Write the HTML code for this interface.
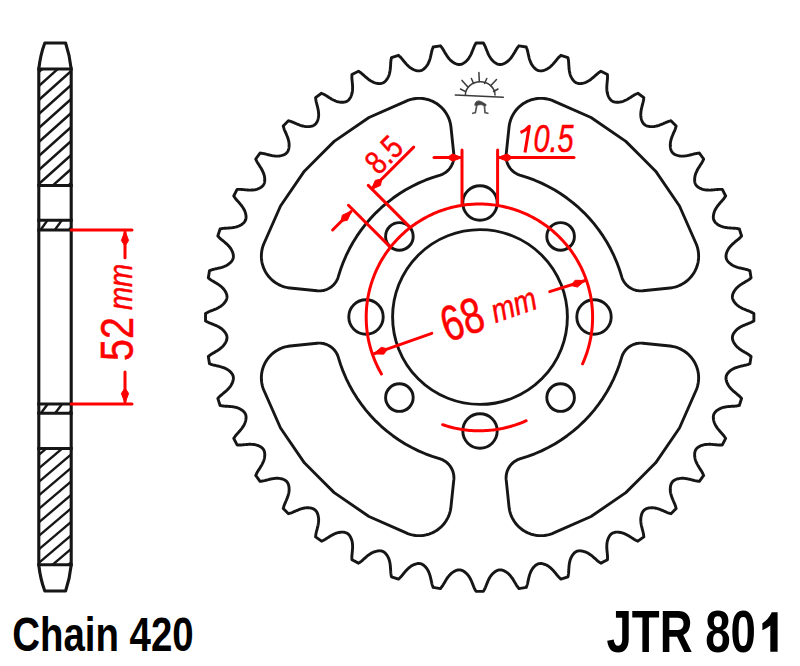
<!DOCTYPE html>
<html><head><meta charset="utf-8"><style>
html,body{margin:0;padding:0;background:#fff;}
body{width:800px;height:666px;overflow:hidden;font-family:"Liberation Sans",sans-serif;}
svg{display:block;}
</style></head><body>
<svg width="800" height="666" viewBox="0 0 800 666"><rect width="800" height="666" fill="#fff"/><g fill="none" stroke="#161616" stroke-width="2.9" stroke-linejoin="round" stroke-linecap="round"><path d="M459.81,64.48L460.47,64.40L461.12,64.26L461.77,64.05L462.42,63.79L463.06,63.48L463.71,63.10L464.38,62.66L465.06,62.15L465.74,61.57L466.41,60.96L467.05,60.33L467.65,59.68L468.19,59.02L468.70,58.32L469.17,57.59L469.62,56.85L470.05,56.11L470.46,55.36L470.85,54.62L471.21,53.86L471.54,53.09L471.86,52.33L472.17,51.56L472.49,50.80L472.81,50.02L473.12,49.23L473.42,48.44L473.72,47.67L474.01,46.93L474.31,46.25L474.60,45.63L474.90,45.06L475.19,44.53L475.47,44.02L475.75,43.52L476.02,43.02L483.38,43.02L483.65,43.52L483.93,44.02L484.21,44.53L484.50,45.06L484.80,45.63L485.09,46.25L485.39,46.93L485.68,47.67L485.98,48.44L486.28,49.23L486.59,50.02L486.91,50.80L487.23,51.56L487.54,52.33L487.86,53.09L488.19,53.86L488.55,54.62L488.94,55.36L489.35,56.11L489.78,56.85L490.23,57.59L490.70,58.32L491.21,59.02L491.75,59.68L492.35,60.33L492.99,60.96L493.66,61.57L494.34,62.15L495.02,62.66L495.69,63.10L496.34,63.48L496.98,63.79L497.63,64.05L498.28,64.26L498.93,64.40L499.59,64.48L500.25,64.50L500.92,64.46L501.59,64.36L502.27,64.21L502.96,64.00L503.66,63.73L504.39,63.40L505.14,63.00L505.90,62.54L506.66,62.04L507.39,61.51L508.08,60.97L508.72,60.40L509.33,59.78L509.91,59.14L510.48,58.48L511.02,57.81L511.54,57.14L512.04,56.47L512.51,55.77L512.96,55.07L513.39,54.36L513.82,53.65L514.25,52.95L514.69,52.24L515.12,51.50L515.54,50.77L515.96,50.05L516.36,49.37L516.76,48.75L517.15,48.18L517.53,47.66L517.90,47.18L518.26,46.72L518.61,46.27L518.95,45.82L526.23,46.98L526.41,47.51L526.61,48.05L526.81,48.59L527.02,49.17L527.22,49.78L527.41,50.43L527.60,51.15L527.77,51.92L527.95,52.73L528.12,53.56L528.30,54.39L528.49,55.21L528.69,56.01L528.88,56.81L529.07,57.62L529.28,58.43L529.52,59.23L529.78,60.03L530.07,60.83L530.38,61.64L530.71,62.44L531.07,63.23L531.46,64.00L531.89,64.74L532.37,65.47L532.91,66.20L533.47,66.90L534.06,67.58L534.65,68.19L535.24,68.73L535.82,69.20L536.41,69.62L537.01,69.97L537.62,70.28L538.24,70.52L538.88,70.70L539.53,70.83L540.20,70.89L540.87,70.90L541.57,70.85L542.28,70.75L543.02,70.60L543.78,70.38L544.59,70.10L545.42,69.77L546.25,69.40L547.05,68.99L547.81,68.56L548.54,68.10L549.23,67.59L549.91,67.05L550.57,66.48L551.21,65.90L551.83,65.32L552.43,64.73L553.00,64.12L553.55,63.50L554.09,62.87L554.63,62.24L555.17,61.61L555.71,60.97L556.25,60.31L556.78,59.66L557.30,59.01L557.81,58.41L558.30,57.85L558.77,57.35L559.23,56.90L559.67,56.48L560.10,56.09L560.51,55.70L560.92,55.31L567.93,57.58L568.03,58.14L568.14,58.70L568.25,59.27L568.36,59.87L568.47,60.50L568.55,61.18L568.62,61.92L568.68,62.71L568.72,63.54L568.77,64.38L568.82,65.23L568.88,66.06L568.94,66.89L569.01,67.71L569.07,68.54L569.15,69.37L569.26,70.20L569.40,71.03L569.56,71.87L569.73,72.71L569.93,73.55L570.16,74.39L570.43,75.21L570.74,76.01L571.11,76.81L571.52,77.61L571.97,78.40L572.44,79.15L572.93,79.85L573.42,80.48L573.93,81.03L574.44,81.54L574.98,81.98L575.53,82.38L576.11,82.71L576.71,83.00L577.33,83.22L577.98,83.39L578.65,83.50L579.35,83.57L580.07,83.58L580.81,83.54L581.61,83.45L582.45,83.30L583.32,83.10L584.19,82.86L585.05,82.58L585.87,82.28L586.66,81.93L587.43,81.54L588.18,81.11L588.92,80.66L589.64,80.18L590.34,79.71L591.03,79.22L591.69,78.71L592.33,78.18L592.97,77.64L593.59,77.10L594.22,76.56L594.85,76.02L595.49,75.45L596.12,74.88L596.73,74.33L597.33,73.81L597.90,73.34L598.45,72.92L598.97,72.55L599.47,72.20L599.95,71.88L600.43,71.56L600.89,71.24L607.46,74.58L607.47,75.15L607.49,75.72L607.51,76.30L607.53,76.91L607.53,77.55L607.51,78.23L607.46,78.97L607.39,79.76L607.31,80.59L607.22,81.43L607.14,82.27L607.07,83.11L607.00,83.93L606.93,84.76L606.87,85.58L606.82,86.42L606.79,87.25L606.80,88.09L606.83,88.94L606.87,89.80L606.94,90.67L607.03,91.53L607.17,92.38L607.35,93.22L607.59,94.07L607.87,94.92L608.19,95.77L608.54,96.59L608.91,97.36L609.30,98.06L609.71,98.68L610.14,99.26L610.60,99.78L611.09,100.26L611.60,100.68L612.15,101.06L612.73,101.38L613.35,101.64L613.99,101.86L614.67,102.03L615.38,102.15L616.12,102.23L616.92,102.27L617.77,102.25L618.66,102.19L619.56,102.09L620.46,101.95L621.31,101.78L622.14,101.56L622.96,101.29L623.78,100.99L624.58,100.65L625.36,100.30L626.13,99.94L626.88,99.56L627.62,99.16L628.34,98.74L629.05,98.31L629.75,97.87L630.46,97.44L631.17,97.00L631.88,96.54L632.59,96.08L633.29,95.63L633.96,95.21L634.60,94.83L635.20,94.50L635.77,94.21L636.32,93.95L636.85,93.71L637.37,93.47L637.88,93.22L643.84,97.55L643.76,98.11L643.69,98.68L643.62,99.26L643.54,99.86L643.45,100.49L643.32,101.17L643.16,101.89L642.97,102.66L642.75,103.46L642.53,104.28L642.32,105.10L642.12,105.91L641.93,106.72L641.73,107.52L641.54,108.33L641.36,109.14L641.20,109.97L641.08,110.80L640.97,111.64L640.88,112.50L640.81,113.36L640.77,114.23L640.77,115.09L640.82,115.95L640.92,116.82L641.06,117.71L641.24,118.60L641.46,119.46L641.71,120.28L641.99,121.03L642.29,121.71L642.63,122.35L643.00,122.94L643.41,123.48L643.85,123.98L644.34,124.44L644.86,124.84L645.42,125.20L646.02,125.52L646.67,125.79L647.35,126.03L648.07,126.22L648.85,126.38L649.70,126.50L650.59,126.58L651.49,126.62L652.39,126.62L653.27,126.58L654.12,126.50L654.98,126.36L655.83,126.19L656.67,125.98L657.50,125.76L658.32,125.52L659.12,125.27L659.91,124.98L660.68,124.68L661.45,124.36L662.21,124.04L662.98,123.73L663.75,123.40L664.53,123.06L665.30,122.72L666.06,122.38L666.79,122.07L667.48,121.80L668.12,121.57L668.73,121.38L669.32,121.20L669.88,121.04L670.42,120.89L670.97,120.72L676.18,125.93L676.01,126.48L675.86,127.02L675.70,127.58L675.52,128.17L675.33,128.78L675.10,129.42L674.83,130.11L674.52,130.84L674.18,131.60L673.84,132.37L673.50,133.15L673.17,133.92L672.86,134.69L672.54,135.45L672.22,136.22L671.92,136.99L671.63,137.78L671.38,138.58L671.14,139.40L670.92,140.23L670.71,141.07L670.54,141.92L670.40,142.78L670.32,143.63L670.28,144.51L670.28,145.41L670.32,146.31L670.40,147.20L670.52,148.05L670.68,148.83L670.87,149.55L671.11,150.23L671.38,150.88L671.70,151.48L672.06,152.04L672.46,152.56L672.92,153.05L673.42,153.49L673.96,153.90L674.55,154.27L675.19,154.61L675.87,154.91L676.62,155.19L677.44,155.44L678.30,155.66L679.19,155.84L680.08,155.98L680.95,156.08L681.81,156.13L682.67,156.13L683.54,156.09L684.40,156.02L685.26,155.93L686.10,155.82L686.93,155.70L687.76,155.54L688.57,155.36L689.38,155.17L690.18,154.97L690.99,154.78L691.80,154.58L692.62,154.37L693.44,154.15L694.24,153.93L695.01,153.74L695.73,153.58L696.41,153.45L697.04,153.36L697.64,153.28L698.22,153.21L698.79,153.14L699.35,153.06L703.68,159.02L703.43,159.53L703.19,160.05L702.95,160.58L702.69,161.13L702.40,161.70L702.07,162.30L701.69,162.94L701.27,163.61L700.82,164.31L700.36,165.02L699.90,165.73L699.46,166.44L699.03,167.15L698.59,167.85L698.16,168.56L697.74,169.28L697.34,170.02L696.96,170.77L696.60,171.54L696.25,172.32L695.91,173.12L695.61,173.94L695.34,174.76L695.12,175.59L694.95,176.44L694.81,177.34L694.71,178.24L694.65,179.13L694.63,179.98L694.67,180.78L694.75,181.52L694.87,182.23L695.04,182.91L695.26,183.55L695.52,184.17L695.84,184.75L696.22,185.30L696.64,185.81L697.12,186.30L697.64,186.76L698.22,187.19L698.84,187.60L699.54,187.99L700.31,188.36L701.13,188.71L701.98,189.03L702.83,189.31L703.68,189.55L704.52,189.73L705.37,189.87L706.23,189.96L707.10,190.03L707.96,190.07L708.81,190.10L709.65,190.11L710.48,190.08L711.32,190.03L712.14,189.97L712.97,189.90L713.79,189.83L714.63,189.76L715.47,189.68L716.31,189.59L717.14,189.51L717.93,189.44L718.67,189.39L719.35,189.37L719.99,189.37L720.60,189.39L721.18,189.41L721.75,189.43L722.32,189.44L725.66,196.01L725.34,196.47L725.02,196.95L724.70,197.43L724.35,197.93L723.98,198.45L723.56,199.00L723.09,199.57L722.57,200.17L722.02,200.78L721.45,201.41L720.88,202.05L720.34,202.68L719.80,203.31L719.26,203.93L718.72,204.57L718.19,205.21L717.68,205.87L717.19,206.56L716.72,207.26L716.24,207.98L715.79,208.72L715.36,209.47L714.97,210.24L714.62,211.03L714.32,211.85L714.04,212.71L713.80,213.58L713.60,214.45L713.45,215.29L713.36,216.09L713.32,216.83L713.33,217.55L713.40,218.25L713.51,218.92L713.68,219.57L713.90,220.19L714.19,220.79L714.52,221.37L714.92,221.92L715.36,222.46L715.87,222.97L716.42,223.48L717.05,223.97L717.75,224.46L718.50,224.93L719.29,225.38L720.09,225.79L720.89,226.16L721.69,226.47L722.51,226.74L723.35,226.97L724.19,227.17L725.03,227.34L725.87,227.50L726.70,227.64L727.53,227.75L728.36,227.83L729.19,227.89L730.01,227.96L730.84,228.02L731.67,228.08L732.52,228.13L733.36,228.18L734.19,228.22L734.98,228.28L735.72,228.35L736.40,228.43L737.03,228.54L737.63,228.65L738.20,228.76L738.76,228.87L739.32,228.97L741.59,235.98L741.20,236.39L740.81,236.80L740.42,237.23L740.00,237.67L739.55,238.13L739.05,238.60L738.49,239.09L737.89,239.60L737.24,240.12L736.59,240.65L735.93,241.19L735.29,241.73L734.66,242.27L734.03,242.81L733.40,243.35L732.78,243.90L732.17,244.47L731.58,245.07L731.00,245.69L730.42,246.33L729.85,246.99L729.31,247.67L728.80,248.36L728.34,249.09L727.91,249.85L727.50,250.65L727.13,251.48L726.80,252.31L726.52,253.12L726.30,253.88L726.15,254.62L726.05,255.33L726.00,256.03L726.01,256.70L726.07,257.37L726.20,258.02L726.38,258.66L726.62,259.28L726.93,259.89L727.28,260.49L727.70,261.08L728.17,261.66L728.71,262.25L729.32,262.84L730.00,263.43L730.70,263.99L731.43,264.53L732.16,265.01L732.90,265.44L733.67,265.83L734.46,266.19L735.26,266.52L736.07,266.83L736.87,267.12L737.67,267.38L738.47,267.62L739.28,267.83L740.09,268.02L740.89,268.21L741.69,268.41L742.51,268.60L743.34,268.78L744.17,268.95L744.98,269.13L745.75,269.30L746.47,269.49L747.12,269.68L747.73,269.88L748.31,270.09L748.85,270.29L749.39,270.49L749.92,270.67L751.08,277.95L750.63,278.29L750.18,278.64L749.72,279.00L749.24,279.37L748.72,279.75L748.15,280.14L747.53,280.54L746.85,280.94L746.13,281.36L745.40,281.78L744.66,282.21L743.95,282.65L743.25,283.08L742.54,283.51L741.83,283.94L741.13,284.39L740.43,284.86L739.76,285.36L739.09,285.88L738.42,286.42L737.76,286.99L737.12,287.57L736.50,288.18L735.93,288.82L735.39,289.51L734.86,290.24L734.36,291.00L733.90,291.76L733.50,292.51L733.17,293.24L732.90,293.94L732.69,294.63L732.54,295.31L732.44,295.98L732.40,296.65L732.42,297.31L732.50,297.97L732.64,298.62L732.85,299.27L733.11,299.92L733.42,300.56L733.80,301.21L734.24,301.88L734.75,302.56L735.33,303.24L735.94,303.91L736.57,304.55L737.22,305.15L737.88,305.69L738.58,306.20L739.31,306.67L740.05,307.12L740.79,307.55L741.54,307.96L742.28,308.35L743.04,308.71L743.81,309.04L744.57,309.36L745.34,309.67L746.10,309.99L746.88,310.31L747.67,310.62L748.46,310.92L749.23,311.22L749.97,311.51L750.65,311.81L751.27,312.10L751.84,312.40L752.37,312.69L752.88,312.97L753.38,313.25L753.88,313.52L753.88,320.88L753.38,321.15L752.88,321.43L752.37,321.71L751.84,322.00L751.27,322.30L750.65,322.59L749.97,322.89L749.23,323.18L748.46,323.48L747.67,323.78L746.88,324.09L746.10,324.41L745.34,324.73L744.57,325.04L743.81,325.36L743.04,325.69L742.28,326.05L741.54,326.44L740.79,326.85L740.05,327.28L739.31,327.73L738.58,328.20L737.88,328.71L737.22,329.25L736.57,329.85L735.94,330.49L735.33,331.16L734.75,331.84L734.24,332.52L733.80,333.19L733.42,333.84L733.11,334.48L732.85,335.13L732.64,335.78L732.50,336.43L732.42,337.09L732.40,337.75L732.44,338.42L732.54,339.09L732.69,339.77L732.90,340.46L733.17,341.16L733.50,341.89L733.90,342.64L734.36,343.40L734.86,344.16L735.39,344.89L735.93,345.58L736.50,346.22L737.12,346.83L737.76,347.41L738.42,347.98L739.09,348.52L739.76,349.04L740.43,349.54L741.13,350.01L741.83,350.46L742.54,350.89L743.25,351.32L743.95,351.75L744.66,352.19L745.40,352.62L746.13,353.04L746.85,353.46L747.53,353.86L748.15,354.26L748.72,354.65L749.24,355.03L749.72,355.40L750.18,355.76L750.63,356.11L751.08,356.45L749.92,363.73L749.39,363.91L748.85,364.11L748.31,364.31L747.73,364.52L747.12,364.72L746.47,364.91L745.75,365.10L744.98,365.27L744.17,365.45L743.34,365.62L742.51,365.80L741.69,365.99L740.89,366.19L740.09,366.38L739.28,366.57L738.47,366.78L737.67,367.02L736.87,367.28L736.07,367.57L735.26,367.88L734.46,368.21L733.67,368.57L732.90,368.96L732.16,369.39L731.43,369.87L730.70,370.41L730.00,370.97L729.32,371.56L728.71,372.15L728.17,372.74L727.70,373.32L727.28,373.91L726.93,374.51L726.62,375.12L726.38,375.74L726.20,376.38L726.07,377.03L726.01,377.70L726.00,378.37L726.05,379.07L726.15,379.78L726.30,380.52L726.52,381.28L726.80,382.09L727.13,382.92L727.50,383.75L727.91,384.55L728.34,385.31L728.80,386.04L729.31,386.73L729.85,387.41L730.42,388.07L731.00,388.71L731.58,389.33L732.17,389.93L732.78,390.50L733.40,391.05L734.03,391.59L734.66,392.13L735.29,392.67L735.93,393.21L736.59,393.75L737.24,394.28L737.89,394.80L738.49,395.31L739.05,395.80L739.55,396.27L740.00,396.73L740.42,397.17L740.81,397.60L741.20,398.01L741.59,398.42L739.32,405.43L738.76,405.53L738.20,405.64L737.63,405.75L737.03,405.86L736.40,405.97L735.72,406.05L734.98,406.12L734.19,406.18L733.36,406.22L732.52,406.27L731.67,406.32L730.84,406.38L730.01,406.44L729.19,406.51L728.36,406.57L727.53,406.65L726.70,406.76L725.87,406.90L725.03,407.06L724.19,407.23L723.35,407.43L722.51,407.66L721.69,407.93L720.89,408.24L720.09,408.61L719.29,409.02L718.50,409.47L717.75,409.94L717.05,410.43L716.42,410.92L715.87,411.43L715.36,411.94L714.92,412.48L714.52,413.03L714.19,413.61L713.90,414.21L713.68,414.83L713.51,415.48L713.40,416.15L713.33,416.85L713.32,417.57L713.36,418.31L713.45,419.11L713.60,419.95L713.80,420.82L714.04,421.69L714.32,422.55L714.62,423.37L714.97,424.16L715.36,424.93L715.79,425.68L716.24,426.42L716.72,427.14L717.19,427.84L717.68,428.53L718.19,429.19L718.72,429.83L719.26,430.47L719.80,431.09L720.34,431.72L720.88,432.35L721.45,432.99L722.02,433.62L722.57,434.23L723.09,434.83L723.56,435.40L723.98,435.95L724.35,436.47L724.70,436.97L725.02,437.45L725.34,437.93L725.66,438.39L722.32,444.96L721.75,444.97L721.18,444.99L720.60,445.01L719.99,445.03L719.35,445.03L718.67,445.01L717.93,444.96L717.14,444.89L716.31,444.81L715.47,444.72L714.63,444.64L713.79,444.57L712.97,444.50L712.14,444.43L711.32,444.37L710.48,444.32L709.65,444.29L708.81,444.30L707.96,444.33L707.10,444.37L706.23,444.44L705.37,444.53L704.52,444.67L703.68,444.85L702.83,445.09L701.98,445.37L701.13,445.69L700.31,446.04L699.54,446.41L698.84,446.80L698.22,447.21L697.64,447.64L697.12,448.10L696.64,448.59L696.22,449.10L695.84,449.65L695.52,450.23L695.26,450.85L695.04,451.49L694.87,452.17L694.75,452.88L694.67,453.62L694.63,454.42L694.65,455.27L694.71,456.16L694.81,457.06L694.95,457.96L695.12,458.81L695.34,459.64L695.61,460.46L695.91,461.28L696.25,462.08L696.60,462.86L696.96,463.63L697.34,464.38L697.74,465.12L698.16,465.84L698.59,466.55L699.03,467.25L699.46,467.96L699.90,468.67L700.36,469.38L700.82,470.09L701.27,470.79L701.69,471.46L702.07,472.10L702.40,472.70L702.69,473.27L702.95,473.82L703.19,474.35L703.43,474.87L703.68,475.38L699.35,481.34L698.79,481.26L698.22,481.19L697.64,481.12L697.04,481.04L696.41,480.95L695.73,480.82L695.01,480.66L694.24,480.47L693.44,480.25L692.62,480.03L691.80,479.82L690.99,479.62L690.18,479.43L689.38,479.23L688.57,479.04L687.76,478.86L686.93,478.70L686.10,478.58L685.26,478.47L684.40,478.38L683.54,478.31L682.67,478.27L681.81,478.27L680.95,478.32L680.08,478.42L679.19,478.56L678.30,478.74L677.44,478.96L676.62,479.21L675.87,479.49L675.19,479.79L674.55,480.13L673.96,480.50L673.42,480.91L672.92,481.35L672.46,481.84L672.06,482.36L671.70,482.92L671.38,483.52L671.11,484.17L670.87,484.85L670.68,485.57L670.52,486.35L670.40,487.20L670.32,488.09L670.28,488.99L670.28,489.89L670.32,490.77L670.40,491.62L670.54,492.48L670.71,493.33L670.92,494.17L671.14,495.00L671.38,495.82L671.63,496.62L671.92,497.41L672.22,498.18L672.54,498.95L672.86,499.71L673.17,500.48L673.50,501.25L673.84,502.03L674.18,502.80L674.52,503.56L674.83,504.29L675.10,504.98L675.33,505.62L675.52,506.23L675.70,506.82L675.86,507.38L676.01,507.92L676.18,508.47L670.97,513.68L670.42,513.51L669.88,513.36L669.32,513.20L668.73,513.02L668.12,512.83L667.48,512.60L666.79,512.33L666.06,512.02L665.30,511.68L664.53,511.34L663.75,511.00L662.98,510.67L662.21,510.36L661.45,510.04L660.68,509.72L659.91,509.42L659.12,509.13L658.32,508.88L657.50,508.64L656.67,508.42L655.83,508.21L654.98,508.04L654.12,507.90L653.27,507.82L652.39,507.78L651.49,507.78L650.59,507.82L649.70,507.90L648.85,508.02L648.07,508.18L647.35,508.37L646.67,508.61L646.02,508.88L645.42,509.20L644.86,509.56L644.34,509.96L643.85,510.42L643.41,510.92L643.00,511.46L642.63,512.05L642.29,512.69L641.99,513.37L641.71,514.12L641.46,514.94L641.24,515.80L641.06,516.69L640.92,517.58L640.82,518.45L640.77,519.31L640.77,520.17L640.81,521.04L640.88,521.90L640.97,522.76L641.08,523.60L641.20,524.43L641.36,525.26L641.54,526.07L641.73,526.88L641.93,527.68L642.12,528.49L642.32,529.30L642.53,530.12L642.75,530.94L642.97,531.74L643.16,532.51L643.32,533.23L643.45,533.91L643.54,534.54L643.62,535.14L643.69,535.72L643.76,536.29L643.84,536.85L637.88,541.18L637.37,540.93L636.85,540.69L636.32,540.45L635.77,540.19L635.20,539.90L634.60,539.57L633.96,539.19L633.29,538.77L632.59,538.32L631.88,537.86L631.17,537.40L630.46,536.96L629.75,536.53L629.05,536.09L628.34,535.66L627.62,535.24L626.88,534.84L626.13,534.46L625.36,534.10L624.58,533.75L623.78,533.41L622.96,533.11L622.14,532.84L621.31,532.62L620.46,532.45L619.56,532.31L618.66,532.21L617.77,532.15L616.92,532.13L616.12,532.17L615.38,532.25L614.67,532.37L613.99,532.54L613.35,532.76L612.73,533.02L612.15,533.34L611.60,533.72L611.09,534.14L610.60,534.62L610.14,535.14L609.71,535.72L609.30,536.34L608.91,537.04L608.54,537.81L608.19,538.63L607.87,539.48L607.59,540.33L607.35,541.18L607.17,542.02L607.03,542.87L606.94,543.73L606.87,544.60L606.83,545.46L606.80,546.31L606.79,547.15L606.82,547.98L606.87,548.82L606.93,549.64L607.00,550.47L607.07,551.29L607.14,552.13L607.22,552.97L607.31,553.81L607.39,554.64L607.46,555.43L607.51,556.17L607.53,556.85L607.53,557.49L607.51,558.10L607.49,558.68L607.47,559.25L607.46,559.82L600.89,563.16L600.43,562.84L599.95,562.52L599.47,562.20L598.97,561.85L598.45,561.48L597.90,561.06L597.33,560.59L596.73,560.07L596.12,559.52L595.49,558.95L594.85,558.38L594.22,557.84L593.59,557.30L592.97,556.76L592.33,556.22L591.69,555.69L591.03,555.18L590.34,554.69L589.64,554.22L588.92,553.74L588.18,553.29L587.43,552.86L586.66,552.47L585.87,552.12L585.05,551.82L584.19,551.54L583.32,551.30L582.45,551.10L581.61,550.95L580.81,550.86L580.07,550.82L579.35,550.83L578.65,550.90L577.98,551.01L577.33,551.18L576.71,551.40L576.11,551.69L575.53,552.02L574.98,552.42L574.44,552.86L573.93,553.37L573.42,553.92L572.93,554.55L572.44,555.25L571.97,556.00L571.52,556.79L571.11,557.59L570.74,558.39L570.43,559.19L570.16,560.01L569.93,560.85L569.73,561.69L569.56,562.53L569.40,563.37L569.26,564.20L569.15,565.03L569.07,565.86L569.01,566.69L568.94,567.51L568.88,568.34L568.82,569.17L568.77,570.02L568.72,570.86L568.68,571.69L568.62,572.48L568.55,573.22L568.47,573.90L568.36,574.53L568.25,575.13L568.14,575.70L568.03,576.26L567.93,576.82L560.92,579.09L560.51,578.70L560.10,578.31L559.67,577.92L559.23,577.50L558.77,577.05L558.30,576.55L557.81,575.99L557.30,575.39L556.78,574.74L556.25,574.09L555.71,573.43L555.17,572.79L554.63,572.16L554.09,571.53L553.55,570.90L553.00,570.28L552.43,569.67L551.83,569.08L551.21,568.50L550.57,567.92L549.91,567.35L549.23,566.81L548.54,566.30L547.81,565.84L547.05,565.41L546.25,565.00L545.42,564.63L544.59,564.30L543.78,564.02L543.02,563.80L542.28,563.65L541.57,563.55L540.87,563.50L540.20,563.51L539.53,563.57L538.88,563.70L538.24,563.88L537.62,564.12L537.01,564.43L536.41,564.78L535.82,565.20L535.24,565.67L534.65,566.21L534.06,566.82L533.47,567.50L532.91,568.20L532.37,568.93L531.89,569.66L531.46,570.40L531.07,571.17L530.71,571.96L530.38,572.76L530.07,573.57L529.78,574.37L529.52,575.17L529.28,575.97L529.07,576.78L528.88,577.59L528.69,578.39L528.49,579.19L528.30,580.01L528.12,580.84L527.95,581.67L527.77,582.48L527.60,583.25L527.41,583.97L527.22,584.62L527.02,585.23L526.81,585.81L526.61,586.35L526.41,586.89L526.23,587.42L518.95,588.58L518.61,588.13L518.26,587.68L517.90,587.22L517.53,586.74L517.15,586.22L516.76,585.65L516.36,585.03L515.96,584.35L515.54,583.63L515.12,582.90L514.69,582.16L514.25,581.45L513.82,580.75L513.39,580.04L512.96,579.33L512.51,578.63L512.04,577.93L511.54,577.26L511.02,576.59L510.48,575.92L509.91,575.26L509.33,574.62L508.72,574.00L508.08,573.43L507.39,572.89L506.66,572.36L505.90,571.86L505.14,571.40L504.39,571.00L503.66,570.67L502.96,570.40L502.27,570.19L501.59,570.04L500.92,569.94L500.25,569.90L499.59,569.92L498.93,570.00L498.28,570.14L497.63,570.35L496.98,570.61L496.34,570.92L495.69,571.30L495.02,571.74L494.34,572.25L493.66,572.83L492.99,573.44L492.35,574.07L491.75,574.72L491.21,575.38L490.70,576.08L490.23,576.81L489.78,577.55L489.35,578.29L488.94,579.04L488.55,579.78L488.19,580.54L487.86,581.31L487.54,582.07L487.23,582.84L486.91,583.60L486.59,584.38L486.28,585.17L485.98,585.96L485.68,586.73L485.39,587.47L485.09,588.15L484.80,588.77L484.50,589.34L484.21,589.87L483.93,590.38L483.65,590.88L483.38,591.38L476.02,591.38L475.75,590.88L475.47,590.38L475.19,589.87L474.90,589.34L474.60,588.77L474.31,588.15L474.01,587.47L473.72,586.73L473.42,585.96L473.12,585.17L472.81,584.38L472.49,583.60L472.17,582.84L471.86,582.07L471.54,581.31L471.21,580.54L470.85,579.78L470.46,579.04L470.05,578.29L469.62,577.55L469.17,576.81L468.70,576.08L468.19,575.38L467.65,574.72L467.05,574.07L466.41,573.44L465.74,572.83L465.06,572.25L464.38,571.74L463.71,571.30L463.06,570.92L462.42,570.61L461.77,570.35L461.12,570.14L460.47,570.00L459.81,569.92L459.15,569.90L458.48,569.94L457.81,570.04L457.13,570.19L456.44,570.40L455.74,570.67L455.01,571.00L454.26,571.40L453.50,571.86L452.74,572.36L452.01,572.89L451.32,573.43L450.68,574.00L450.07,574.62L449.49,575.26L448.92,575.92L448.38,576.59L447.86,577.26L447.36,577.93L446.89,578.63L446.44,579.33L446.01,580.04L445.58,580.75L445.15,581.45L444.71,582.16L444.28,582.90L443.86,583.63L443.44,584.35L443.04,585.03L442.64,585.65L442.25,586.22L441.87,586.74L441.50,587.22L441.14,587.68L440.79,588.13L440.45,588.58L433.17,587.42L432.99,586.89L432.79,586.35L432.59,585.81L432.38,585.23L432.18,584.62L431.99,583.97L431.80,583.25L431.63,582.48L431.45,581.67L431.28,580.84L431.10,580.01L430.91,579.19L430.71,578.39L430.52,577.59L430.33,576.78L430.12,575.97L429.88,575.17L429.62,574.37L429.33,573.57L429.02,572.76L428.69,571.96L428.33,571.17L427.94,570.40L427.51,569.66L427.03,568.93L426.49,568.20L425.93,567.50L425.34,566.82L424.75,566.21L424.16,565.67L423.58,565.20L422.99,564.78L422.39,564.43L421.78,564.12L421.16,563.88L420.52,563.70L419.87,563.57L419.20,563.51L418.53,563.50L417.83,563.55L417.12,563.65L416.38,563.80L415.62,564.02L414.81,564.30L413.98,564.63L413.15,565.00L412.35,565.41L411.59,565.84L410.86,566.30L410.17,566.81L409.49,567.35L408.83,567.92L408.19,568.50L407.57,569.08L406.97,569.67L406.40,570.28L405.85,570.90L405.31,571.53L404.77,572.16L404.23,572.79L403.69,573.43L403.15,574.09L402.62,574.74L402.10,575.39L401.59,575.99L401.10,576.55L400.63,577.05L400.17,577.50L399.73,577.92L399.30,578.31L398.89,578.70L398.48,579.09L391.47,576.82L391.37,576.26L391.26,575.70L391.15,575.13L391.04,574.53L390.93,573.90L390.85,573.22L390.78,572.48L390.72,571.69L390.68,570.86L390.63,570.02L390.58,569.17L390.52,568.34L390.46,567.51L390.39,566.69L390.33,565.86L390.25,565.03L390.14,564.20L390.00,563.37L389.84,562.53L389.67,561.69L389.47,560.85L389.24,560.01L388.97,559.19L388.66,558.39L388.29,557.59L387.88,556.79L387.43,556.00L386.96,555.25L386.47,554.55L385.98,553.92L385.47,553.37L384.96,552.86L384.42,552.42L383.87,552.02L383.29,551.69L382.69,551.40L382.07,551.18L381.42,551.01L380.75,550.90L380.05,550.83L379.33,550.82L378.59,550.86L377.79,550.95L376.95,551.10L376.08,551.30L375.21,551.54L374.35,551.82L373.53,552.12L372.74,552.47L371.97,552.86L371.22,553.29L370.48,553.74L369.76,554.22L369.06,554.69L368.37,555.18L367.71,555.69L367.07,556.22L366.43,556.76L365.81,557.30L365.18,557.84L364.55,558.38L363.91,558.95L363.28,559.52L362.67,560.07L362.07,560.59L361.50,561.06L360.95,561.48L360.43,561.85L359.93,562.20L359.45,562.52L358.97,562.84L358.51,563.16L351.94,559.82L351.93,559.25L351.91,558.68L351.89,558.10L351.87,557.49L351.87,556.85L351.89,556.17L351.94,555.43L352.01,554.64L352.09,553.81L352.18,552.97L352.26,552.13L352.33,551.29L352.40,550.47L352.47,549.64L352.53,548.82L352.58,547.98L352.61,547.15L352.60,546.31L352.57,545.46L352.53,544.60L352.46,543.73L352.37,542.87L352.23,542.02L352.05,541.18L351.81,540.33L351.53,539.48L351.21,538.63L350.86,537.81L350.49,537.04L350.10,536.34L349.69,535.72L349.26,535.14L348.80,534.62L348.31,534.14L347.80,533.72L347.25,533.34L346.67,533.02L346.05,532.76L345.41,532.54L344.73,532.37L344.02,532.25L343.28,532.17L342.48,532.13L341.63,532.15L340.74,532.21L339.84,532.31L338.94,532.45L338.09,532.62L337.26,532.84L336.44,533.11L335.62,533.41L334.82,533.75L334.04,534.10L333.27,534.46L332.52,534.84L331.78,535.24L331.06,535.66L330.35,536.09L329.65,536.53L328.94,536.96L328.23,537.40L327.52,537.86L326.81,538.32L326.11,538.77L325.44,539.19L324.80,539.57L324.20,539.90L323.63,540.19L323.08,540.45L322.55,540.69L322.03,540.93L321.52,541.18L315.56,536.85L315.64,536.29L315.71,535.72L315.78,535.14L315.86,534.54L315.95,533.91L316.08,533.23L316.24,532.51L316.43,531.74L316.65,530.94L316.87,530.12L317.08,529.30L317.28,528.49L317.47,527.68L317.67,526.88L317.86,526.07L318.04,525.26L318.20,524.43L318.32,523.60L318.43,522.76L318.52,521.90L318.59,521.04L318.63,520.17L318.63,519.31L318.58,518.45L318.48,517.58L318.34,516.69L318.16,515.80L317.94,514.94L317.69,514.12L317.41,513.37L317.11,512.69L316.77,512.05L316.40,511.46L315.99,510.92L315.55,510.42L315.06,509.96L314.54,509.56L313.98,509.20L313.38,508.88L312.73,508.61L312.05,508.37L311.33,508.18L310.55,508.02L309.70,507.90L308.81,507.82L307.91,507.78L307.01,507.78L306.13,507.82L305.28,507.90L304.42,508.04L303.57,508.21L302.73,508.42L301.90,508.64L301.08,508.88L300.28,509.13L299.49,509.42L298.72,509.72L297.95,510.04L297.19,510.36L296.42,510.67L295.65,511.00L294.87,511.34L294.10,511.68L293.34,512.02L292.61,512.33L291.92,512.60L291.28,512.83L290.67,513.02L290.08,513.20L289.52,513.36L288.98,513.51L288.43,513.68L283.22,508.47L283.39,507.92L283.54,507.38L283.70,506.82L283.88,506.23L284.07,505.62L284.30,504.98L284.57,504.29L284.88,503.56L285.22,502.80L285.56,502.03L285.90,501.25L286.23,500.48L286.54,499.71L286.86,498.95L287.18,498.18L287.48,497.41L287.77,496.62L288.02,495.82L288.26,495.00L288.48,494.17L288.69,493.33L288.86,492.48L289.00,491.62L289.08,490.77L289.12,489.89L289.12,488.99L289.08,488.09L289.00,487.20L288.88,486.35L288.72,485.57L288.53,484.85L288.29,484.17L288.02,483.52L287.70,482.92L287.34,482.36L286.94,481.84L286.48,481.35L285.98,480.91L285.44,480.50L284.85,480.13L284.21,479.79L283.53,479.49L282.78,479.21L281.96,478.96L281.10,478.74L280.21,478.56L279.32,478.42L278.45,478.32L277.59,478.27L276.73,478.27L275.86,478.31L275.00,478.38L274.14,478.47L273.30,478.58L272.47,478.70L271.64,478.86L270.83,479.04L270.02,479.23L269.22,479.43L268.41,479.62L267.60,479.82L266.78,480.03L265.96,480.25L265.16,480.47L264.39,480.66L263.67,480.82L262.99,480.95L262.36,481.04L261.76,481.12L261.18,481.19L260.61,481.26L260.05,481.34L255.72,475.38L255.97,474.87L256.21,474.35L256.45,473.82L256.71,473.27L257.00,472.70L257.33,472.10L257.71,471.46L258.13,470.79L258.58,470.09L259.04,469.38L259.50,468.67L259.94,467.96L260.37,467.25L260.81,466.55L261.24,465.84L261.66,465.12L262.06,464.38L262.44,463.63L262.80,462.86L263.15,462.08L263.49,461.28L263.79,460.46L264.06,459.64L264.28,458.81L264.45,457.96L264.59,457.06L264.69,456.16L264.75,455.27L264.77,454.42L264.73,453.62L264.65,452.88L264.53,452.17L264.36,451.49L264.14,450.85L263.88,450.23L263.56,449.65L263.18,449.10L262.76,448.59L262.28,448.10L261.76,447.64L261.18,447.21L260.56,446.80L259.86,446.41L259.09,446.04L258.27,445.69L257.42,445.37L256.57,445.09L255.72,444.85L254.88,444.67L254.03,444.53L253.17,444.44L252.30,444.37L251.44,444.33L250.59,444.30L249.75,444.29L248.92,444.32L248.08,444.37L247.26,444.43L246.43,444.50L245.61,444.57L244.77,444.64L243.93,444.72L243.09,444.81L242.26,444.89L241.47,444.96L240.73,445.01L240.05,445.03L239.41,445.03L238.80,445.01L238.22,444.99L237.65,444.97L237.08,444.96L233.74,438.39L234.06,437.93L234.38,437.45L234.70,436.97L235.05,436.47L235.42,435.95L235.84,435.40L236.31,434.83L236.83,434.23L237.38,433.62L237.95,432.99L238.52,432.35L239.06,431.72L239.60,431.09L240.14,430.47L240.68,429.83L241.21,429.19L241.72,428.53L242.21,427.84L242.68,427.14L243.16,426.42L243.61,425.68L244.04,424.93L244.43,424.16L244.78,423.37L245.08,422.55L245.36,421.69L245.60,420.82L245.80,419.95L245.95,419.11L246.04,418.31L246.08,417.57L246.07,416.85L246.00,416.15L245.89,415.48L245.72,414.83L245.50,414.21L245.21,413.61L244.88,413.03L244.48,412.48L244.04,411.94L243.53,411.43L242.98,410.92L242.35,410.43L241.65,409.94L240.90,409.47L240.11,409.02L239.31,408.61L238.51,408.24L237.71,407.93L236.89,407.66L236.05,407.43L235.21,407.23L234.37,407.06L233.53,406.90L232.70,406.76L231.87,406.65L231.04,406.57L230.21,406.51L229.39,406.44L228.56,406.38L227.73,406.32L226.88,406.27L226.04,406.22L225.21,406.18L224.42,406.12L223.68,406.05L223.00,405.97L222.37,405.86L221.77,405.75L221.20,405.64L220.64,405.53L220.08,405.43L217.81,398.42L218.20,398.01L218.59,397.60L218.98,397.17L219.40,396.73L219.85,396.27L220.35,395.80L220.91,395.31L221.51,394.80L222.16,394.28L222.81,393.75L223.47,393.21L224.11,392.67L224.74,392.13L225.37,391.59L226.00,391.05L226.62,390.50L227.23,389.93L227.82,389.33L228.40,388.71L228.98,388.07L229.55,387.41L230.09,386.73L230.60,386.04L231.06,385.31L231.49,384.55L231.90,383.75L232.27,382.92L232.60,382.09L232.88,381.28L233.10,380.52L233.25,379.78L233.35,379.07L233.40,378.37L233.39,377.70L233.33,377.03L233.20,376.38L233.02,375.74L232.78,375.12L232.47,374.51L232.12,373.91L231.70,373.32L231.23,372.74L230.69,372.15L230.08,371.56L229.40,370.97L228.70,370.41L227.97,369.87L227.24,369.39L226.50,368.96L225.73,368.57L224.94,368.21L224.14,367.88L223.33,367.57L222.53,367.28L221.73,367.02L220.93,366.78L220.12,366.57L219.31,366.38L218.51,366.19L217.71,365.99L216.89,365.80L216.06,365.62L215.23,365.45L214.42,365.27L213.65,365.10L212.93,364.91L212.28,364.72L211.67,364.52L211.09,364.31L210.55,364.11L210.01,363.91L209.48,363.73L208.32,356.45L208.77,356.11L209.22,355.76L209.68,355.40L210.16,355.03L210.68,354.65L211.25,354.26L211.87,353.86L212.55,353.46L213.27,353.04L214.00,352.62L214.74,352.19L215.45,351.75L216.15,351.32L216.86,350.89L217.57,350.46L218.27,350.01L218.97,349.54L219.64,349.04L220.31,348.52L220.98,347.98L221.64,347.41L222.28,346.83L222.90,346.22L223.47,345.58L224.01,344.89L224.54,344.16L225.04,343.40L225.50,342.64L225.90,341.89L226.23,341.16L226.50,340.46L226.71,339.77L226.86,339.09L226.96,338.42L227.00,337.75L226.98,337.09L226.90,336.43L226.76,335.78L226.55,335.13L226.29,334.48L225.98,333.84L225.60,333.19L225.16,332.52L224.65,331.84L224.07,331.16L223.46,330.49L222.83,329.85L222.18,329.25L221.52,328.71L220.82,328.20L220.09,327.73L219.35,327.28L218.61,326.85L217.86,326.44L217.12,326.05L216.36,325.69L215.59,325.36L214.83,325.04L214.06,324.73L213.30,324.41L212.52,324.09L211.73,323.78L210.94,323.48L210.17,323.18L209.43,322.89L208.75,322.59L208.13,322.30L207.56,322.00L207.03,321.71L206.52,321.43L206.02,321.15L205.52,320.88L205.52,313.52L206.02,313.25L206.52,312.97L207.03,312.69L207.56,312.40L208.13,312.10L208.75,311.81L209.43,311.51L210.17,311.22L210.94,310.92L211.73,310.62L212.52,310.31L213.30,309.99L214.06,309.67L214.83,309.36L215.59,309.04L216.36,308.71L217.12,308.35L217.86,307.96L218.61,307.55L219.35,307.12L220.09,306.67L220.82,306.20L221.52,305.69L222.18,305.15L222.83,304.55L223.46,303.91L224.07,303.24L224.65,302.56L225.16,301.88L225.60,301.21L225.98,300.56L226.29,299.92L226.55,299.27L226.76,298.62L226.90,297.97L226.98,297.31L227.00,296.65L226.96,295.98L226.86,295.31L226.71,294.63L226.50,293.94L226.23,293.24L225.90,292.51L225.50,291.76L225.04,291.00L224.54,290.24L224.01,289.51L223.47,288.82L222.90,288.18L222.28,287.57L221.64,286.99L220.98,286.42L220.31,285.88L219.64,285.36L218.97,284.86L218.27,284.39L217.57,283.94L216.86,283.51L216.15,283.08L215.45,282.65L214.74,282.21L214.00,281.78L213.27,281.36L212.55,280.94L211.87,280.54L211.25,280.14L210.68,279.75L210.16,279.37L209.68,279.00L209.22,278.64L208.77,278.29L208.32,277.95L209.48,270.67L210.01,270.49L210.55,270.29L211.09,270.09L211.67,269.88L212.28,269.68L212.93,269.49L213.65,269.30L214.42,269.13L215.23,268.95L216.06,268.78L216.89,268.60L217.71,268.41L218.51,268.21L219.31,268.02L220.12,267.83L220.93,267.62L221.73,267.38L222.53,267.12L223.33,266.83L224.14,266.52L224.94,266.19L225.73,265.83L226.50,265.44L227.24,265.01L227.97,264.53L228.70,263.99L229.40,263.43L230.08,262.84L230.69,262.25L231.23,261.66L231.70,261.08L232.12,260.49L232.47,259.89L232.78,259.28L233.02,258.66L233.20,258.02L233.33,257.37L233.39,256.70L233.40,256.03L233.35,255.33L233.25,254.62L233.10,253.88L232.88,253.12L232.60,252.31L232.27,251.48L231.90,250.65L231.49,249.85L231.06,249.09L230.60,248.36L230.09,247.67L229.55,246.99L228.98,246.33L228.40,245.69L227.82,245.07L227.23,244.47L226.62,243.90L226.00,243.35L225.37,242.81L224.74,242.27L224.11,241.73L223.47,241.19L222.81,240.65L222.16,240.12L221.51,239.60L220.91,239.09L220.35,238.60L219.85,238.13L219.40,237.67L218.98,237.23L218.59,236.80L218.20,236.39L217.81,235.98L220.08,228.97L220.64,228.87L221.20,228.76L221.77,228.65L222.37,228.54L223.00,228.43L223.68,228.35L224.42,228.28L225.21,228.22L226.04,228.18L226.88,228.13L227.73,228.08L228.56,228.02L229.39,227.96L230.21,227.89L231.04,227.83L231.87,227.75L232.70,227.64L233.53,227.50L234.37,227.34L235.21,227.17L236.05,226.97L236.89,226.74L237.71,226.47L238.51,226.16L239.31,225.79L240.11,225.38L240.90,224.93L241.65,224.46L242.35,223.97L242.98,223.48L243.53,222.97L244.04,222.46L244.48,221.92L244.88,221.37L245.21,220.79L245.50,220.19L245.72,219.57L245.89,218.92L246.00,218.25L246.07,217.55L246.08,216.83L246.04,216.09L245.95,215.29L245.80,214.45L245.60,213.58L245.36,212.71L245.08,211.85L244.78,211.03L244.43,210.24L244.04,209.47L243.61,208.72L243.16,207.98L242.68,207.26L242.21,206.56L241.72,205.87L241.21,205.21L240.68,204.57L240.14,203.93L239.60,203.31L239.06,202.68L238.52,202.05L237.95,201.41L237.38,200.78L236.83,200.17L236.31,199.57L235.84,199.00L235.42,198.45L235.05,197.93L234.70,197.43L234.38,196.95L234.06,196.47L233.74,196.01L237.08,189.44L237.65,189.43L238.22,189.41L238.80,189.39L239.41,189.37L240.05,189.37L240.73,189.39L241.47,189.44L242.26,189.51L243.09,189.59L243.93,189.68L244.77,189.76L245.61,189.83L246.43,189.90L247.26,189.97L248.08,190.03L248.92,190.08L249.75,190.11L250.59,190.10L251.44,190.07L252.30,190.03L253.17,189.96L254.03,189.87L254.88,189.73L255.72,189.55L256.57,189.31L257.42,189.03L258.27,188.71L259.09,188.36L259.86,187.99L260.56,187.60L261.18,187.19L261.76,186.76L262.28,186.30L262.76,185.81L263.18,185.30L263.56,184.75L263.88,184.17L264.14,183.55L264.36,182.91L264.53,182.23L264.65,181.52L264.73,180.78L264.77,179.98L264.75,179.13L264.69,178.24L264.59,177.34L264.45,176.44L264.28,175.59L264.06,174.76L263.79,173.94L263.49,173.12L263.15,172.32L262.80,171.54L262.44,170.77L262.06,170.02L261.66,169.28L261.24,168.56L260.81,167.85L260.37,167.15L259.94,166.44L259.50,165.73L259.04,165.02L258.58,164.31L258.13,163.61L257.71,162.94L257.33,162.30L257.00,161.70L256.71,161.13L256.45,160.58L256.21,160.05L255.97,159.53L255.72,159.02L260.05,153.06L260.61,153.14L261.18,153.21L261.76,153.28L262.36,153.36L262.99,153.45L263.67,153.58L264.39,153.74L265.16,153.93L265.96,154.15L266.78,154.37L267.60,154.58L268.41,154.78L269.22,154.97L270.02,155.17L270.83,155.36L271.64,155.54L272.47,155.70L273.30,155.82L274.14,155.93L275.00,156.02L275.86,156.09L276.73,156.13L277.59,156.13L278.45,156.08L279.32,155.98L280.21,155.84L281.10,155.66L281.96,155.44L282.78,155.19L283.53,154.91L284.21,154.61L284.85,154.27L285.44,153.90L285.98,153.49L286.48,153.05L286.94,152.56L287.34,152.04L287.70,151.48L288.02,150.88L288.29,150.23L288.53,149.55L288.72,148.83L288.88,148.05L289.00,147.20L289.08,146.31L289.12,145.41L289.12,144.51L289.08,143.63L289.00,142.78L288.86,141.92L288.69,141.07L288.48,140.23L288.26,139.40L288.02,138.58L287.77,137.78L287.48,136.99L287.18,136.22L286.86,135.45L286.54,134.69L286.23,133.92L285.90,133.15L285.56,132.37L285.22,131.60L284.88,130.84L284.57,130.11L284.30,129.42L284.07,128.78L283.88,128.17L283.70,127.58L283.54,127.02L283.39,126.48L283.22,125.93L288.43,120.72L288.98,120.89L289.52,121.04L290.08,121.20L290.67,121.38L291.28,121.57L291.92,121.80L292.61,122.07L293.34,122.38L294.10,122.72L294.87,123.06L295.65,123.40L296.42,123.73L297.19,124.04L297.95,124.36L298.72,124.68L299.49,124.98L300.28,125.27L301.08,125.52L301.90,125.76L302.73,125.98L303.57,126.19L304.42,126.36L305.28,126.50L306.13,126.58L307.01,126.62L307.91,126.62L308.81,126.58L309.70,126.50L310.55,126.38L311.33,126.22L312.05,126.03L312.73,125.79L313.38,125.52L313.98,125.20L314.54,124.84L315.06,124.44L315.55,123.98L315.99,123.48L316.40,122.94L316.77,122.35L317.11,121.71L317.41,121.03L317.69,120.28L317.94,119.46L318.16,118.60L318.34,117.71L318.48,116.82L318.58,115.95L318.63,115.09L318.63,114.23L318.59,113.36L318.52,112.50L318.43,111.64L318.32,110.80L318.20,109.97L318.04,109.14L317.86,108.33L317.67,107.52L317.47,106.72L317.28,105.91L317.08,105.10L316.87,104.28L316.65,103.46L316.43,102.66L316.24,101.89L316.08,101.17L315.95,100.49L315.86,99.86L315.78,99.26L315.71,98.68L315.64,98.11L315.56,97.55L321.52,93.22L322.03,93.47L322.55,93.71L323.08,93.95L323.63,94.21L324.20,94.50L324.80,94.83L325.44,95.21L326.11,95.63L326.81,96.08L327.52,96.54L328.23,97.00L328.94,97.44L329.65,97.87L330.35,98.31L331.06,98.74L331.78,99.16L332.52,99.56L333.27,99.94L334.04,100.30L334.82,100.65L335.62,100.99L336.44,101.29L337.26,101.56L338.09,101.78L338.94,101.95L339.84,102.09L340.74,102.19L341.63,102.25L342.48,102.27L343.28,102.23L344.02,102.15L344.73,102.03L345.41,101.86L346.05,101.64L346.67,101.38L347.25,101.06L347.80,100.68L348.31,100.26L348.80,99.78L349.26,99.26L349.69,98.68L350.10,98.06L350.49,97.36L350.86,96.59L351.21,95.77L351.53,94.92L351.81,94.07L352.05,93.22L352.23,92.38L352.37,91.53L352.46,90.67L352.53,89.80L352.57,88.94L352.60,88.09L352.61,87.25L352.58,86.42L352.53,85.58L352.47,84.76L352.40,83.93L352.33,83.11L352.26,82.27L352.18,81.43L352.09,80.59L352.01,79.76L351.94,78.97L351.89,78.23L351.87,77.55L351.87,76.91L351.89,76.30L351.91,75.72L351.93,75.15L351.94,74.58L358.51,71.24L358.97,71.56L359.45,71.88L359.93,72.20L360.43,72.55L360.95,72.92L361.50,73.34L362.07,73.81L362.67,74.33L363.28,74.88L363.91,75.45L364.55,76.02L365.18,76.56L365.81,77.10L366.43,77.64L367.07,78.18L367.71,78.71L368.37,79.22L369.06,79.71L369.76,80.18L370.48,80.66L371.22,81.11L371.97,81.54L372.74,81.93L373.53,82.28L374.35,82.58L375.21,82.86L376.08,83.10L376.95,83.30L377.79,83.45L378.59,83.54L379.33,83.58L380.05,83.57L380.75,83.50L381.42,83.39L382.07,83.22L382.69,83.00L383.29,82.71L383.87,82.38L384.42,81.98L384.96,81.54L385.47,81.03L385.98,80.48L386.47,79.85L386.96,79.15L387.43,78.40L387.88,77.61L388.29,76.81L388.66,76.01L388.97,75.21L389.24,74.39L389.47,73.55L389.67,72.71L389.84,71.87L390.00,71.03L390.14,70.20L390.25,69.37L390.33,68.54L390.39,67.71L390.46,66.89L390.52,66.06L390.58,65.23L390.63,64.38L390.68,63.54L390.72,62.71L390.78,61.92L390.85,61.18L390.93,60.50L391.04,59.87L391.15,59.27L391.26,58.70L391.37,58.14L391.47,57.58L398.48,55.31L398.89,55.70L399.30,56.09L399.73,56.48L400.17,56.90L400.63,57.35L401.10,57.85L401.59,58.41L402.10,59.01L402.62,59.66L403.15,60.31L403.69,60.97L404.23,61.61L404.77,62.24L405.31,62.87L405.85,63.50L406.40,64.12L406.97,64.73L407.57,65.32L408.19,65.90L408.83,66.48L409.49,67.05L410.17,67.59L410.86,68.10L411.59,68.56L412.35,68.99L413.15,69.40L413.98,69.77L414.81,70.10L415.62,70.38L416.38,70.60L417.12,70.75L417.83,70.85L418.53,70.90L419.20,70.89L419.87,70.83L420.52,70.70L421.16,70.52L421.78,70.28L422.39,69.97L422.99,69.62L423.58,69.20L424.16,68.73L424.75,68.19L425.34,67.58L425.93,66.90L426.49,66.20L427.03,65.47L427.51,64.74L427.94,64.00L428.33,63.23L428.69,62.44L429.02,61.64L429.33,60.83L429.62,60.03L429.88,59.23L430.12,58.43L430.33,57.62L430.52,56.81L430.71,56.01L430.91,55.21L431.10,54.39L431.28,53.56L431.45,52.73L431.63,51.92L431.80,51.15L431.99,50.43L432.18,49.78L432.38,49.17L432.59,48.59L432.79,48.05L432.99,47.51L433.17,46.98L440.45,45.82L440.79,46.27L441.14,46.72L441.50,47.18L441.87,47.66L442.25,48.18L442.64,48.75L443.04,49.37L443.44,50.05L443.86,50.77L444.28,51.50L444.71,52.24L445.15,52.95L445.58,53.65L446.01,54.36L446.44,55.07L446.89,55.77L447.36,56.47L447.86,57.14L448.38,57.81L448.92,58.48L449.49,59.14L450.07,59.78L450.68,60.40L451.32,60.97L452.01,61.51L452.74,62.04L453.50,62.54L454.26,63.00L455.01,63.40L455.74,63.73L456.44,64.00L457.13,64.21L457.81,64.36L458.48,64.46L459.15,64.50Z"/><path d="M319.26,156.26L334.17,141.35L368.97,117.52L406.22,101.09L407.76,100.46L409.34,99.90L410.95,99.43L412.57,99.05L414.22,98.75L415.88,98.53L417.54,98.41L419.22,98.37L420.89,98.42L422.55,98.55L424.21,98.77L425.86,99.08L427.48,99.48L429.08,99.96L430.66,100.52L432.20,101.16L433.71,101.88L435.18,102.68L436.60,103.56L437.98,104.51L439.30,105.53L440.57,106.62L441.79,107.77L442.94,108.98L444.02,110.26L445.04,111.58L445.98,112.96L446.85,114.39L447.65,115.86L448.37,117.37L449.01,118.92L449.57,120.49L450.04,122.10L450.43,123.72L450.74,125.37L450.95,127.02L453.80,154.08L453.88,155.11L453.91,156.15L453.88,157.18L453.80,158.21L453.67,159.24L453.49,160.26L453.25,161.26L452.96,162.26L452.62,163.23L452.23,164.19L451.79,165.13L451.31,166.04L450.77,166.93L450.19,167.78L449.57,168.61L448.91,169.40L448.20,170.16L447.46,170.88L446.68,171.56L445.87,172.20L445.03,172.80L444.15,173.35L443.25,173.86L442.32,174.32L441.37,174.73L440.40,175.09L439.42,175.40L432.30,177.64L425.31,180.23L418.46,183.17L411.77,186.46L405.25,190.08L398.92,194.02L392.80,198.28L386.91,202.85L381.25,207.71L375.84,212.84L370.71,218.25L365.85,223.91L361.28,229.80L357.02,235.92L353.08,242.25L349.46,248.77L346.17,255.46L343.23,262.31L340.64,269.30L338.40,276.42L338.09,277.40L337.73,278.37L337.32,279.32L336.86,280.25L336.35,281.15L335.80,282.03L335.20,282.87L334.56,283.68L333.88,284.46L333.16,285.20L332.40,285.91L331.61,286.57L330.78,287.19L329.93,287.77L329.04,288.31L328.13,288.79L327.19,289.23L326.23,289.62L325.26,289.96L324.26,290.25L323.26,290.49L322.24,290.67L321.21,290.80L320.18,290.88L319.15,290.91L318.11,290.88L317.08,290.80L290.02,287.95L288.37,287.74L286.72,287.43L285.10,287.04L283.49,286.57L281.92,286.01L280.37,285.37L278.86,284.65L277.39,283.85L275.96,282.98L274.58,282.04L273.26,281.02L271.98,279.94L270.77,278.79L269.62,277.57L268.53,276.30L267.51,274.98L266.56,273.60L265.68,272.18L264.88,270.71L264.16,269.20L263.52,267.66L262.96,266.08L262.48,264.48L262.08,262.86L261.77,261.21L261.55,259.55L261.42,257.89L261.37,256.22L261.41,254.54L261.53,252.88L261.75,251.22L262.05,249.57L262.43,247.95L262.90,246.34L263.46,244.76L264.09,243.22L280.52,205.97L304.35,171.17Z"/><path d="M319.26,477.74L334.17,492.65L368.97,516.48L406.22,532.91L407.76,533.54L409.34,534.10L410.95,534.57L412.57,534.95L414.22,535.25L415.88,535.47L417.54,535.59L419.22,535.63L420.89,535.58L422.55,535.45L424.21,535.23L425.86,534.92L427.48,534.52L429.08,534.04L430.66,533.48L432.20,532.84L433.71,532.12L435.18,531.32L436.60,530.44L437.98,529.49L439.30,528.47L440.57,527.38L441.79,526.23L442.94,525.02L444.02,523.74L445.04,522.42L445.98,521.04L446.85,519.61L447.65,518.14L448.37,516.63L449.01,515.08L449.57,513.51L450.04,511.90L450.43,510.28L450.74,508.63L450.95,506.98L453.80,479.92L453.88,478.89L453.91,477.85L453.88,476.82L453.80,475.79L453.67,474.76L453.49,473.74L453.25,472.74L452.96,471.74L452.62,470.77L452.23,469.81L451.79,468.87L451.31,467.96L450.77,467.07L450.19,466.22L449.57,465.39L448.91,464.60L448.20,463.84L447.46,463.12L446.68,462.44L445.87,461.80L445.03,461.20L444.15,460.65L443.25,460.14L442.32,459.68L441.37,459.27L440.40,458.91L439.42,458.60L432.30,456.36L425.31,453.77L418.46,450.83L411.77,447.54L405.25,443.92L398.92,439.98L392.80,435.72L386.91,431.15L381.25,426.29L375.84,421.16L370.71,415.75L365.85,410.09L361.28,404.20L357.02,398.08L353.08,391.75L349.46,385.23L346.17,378.54L343.23,371.69L340.64,364.70L338.40,357.58L338.09,356.60L337.73,355.63L337.32,354.68L336.86,353.75L336.35,352.85L335.80,351.97L335.20,351.13L334.56,350.32L333.88,349.54L333.16,348.80L332.40,348.09L331.61,347.43L330.78,346.81L329.93,346.23L329.04,345.69L328.13,345.21L327.19,344.77L326.23,344.38L325.26,344.04L324.26,343.75L323.26,343.51L322.24,343.33L321.21,343.20L320.18,343.12L319.15,343.09L318.11,343.12L317.08,343.20L290.02,346.05L288.37,346.26L286.72,346.57L285.10,346.96L283.49,347.43L281.92,347.99L280.37,348.63L278.86,349.35L277.39,350.15L275.96,351.02L274.58,351.96L273.26,352.98L271.98,354.06L270.77,355.21L269.62,356.43L268.53,357.70L267.51,359.02L266.56,360.40L265.68,361.82L264.88,363.29L264.16,364.80L263.52,366.34L262.96,367.92L262.48,369.52L262.08,371.14L261.77,372.79L261.55,374.45L261.42,376.11L261.37,377.78L261.41,379.46L261.53,381.12L261.75,382.78L262.05,384.43L262.43,386.05L262.90,387.66L263.46,389.24L264.09,390.78L280.52,428.03L304.35,462.83Z"/><path d="M640.74,156.26L625.83,141.35L591.03,117.52L553.78,101.09L552.24,100.46L550.66,99.90L549.05,99.43L547.43,99.05L545.78,98.75L544.12,98.53L542.46,98.41L540.78,98.37L539.11,98.42L537.45,98.55L535.79,98.77L534.14,99.08L532.52,99.48L530.92,99.96L529.34,100.52L527.80,101.16L526.29,101.88L524.82,102.68L523.40,103.56L522.02,104.51L520.70,105.53L519.43,106.62L518.21,107.77L517.06,108.98L515.98,110.26L514.96,111.58L514.02,112.96L513.15,114.39L512.35,115.86L511.63,117.37L510.99,118.92L510.43,120.49L509.96,122.10L509.57,123.72L509.26,125.37L509.05,127.02L506.20,154.08L506.12,155.11L506.09,156.15L506.12,157.18L506.20,158.21L506.33,159.24L506.51,160.26L506.75,161.26L507.04,162.26L507.38,163.23L507.77,164.19L508.21,165.13L508.69,166.04L509.23,166.93L509.81,167.78L510.43,168.61L511.09,169.40L511.80,170.16L512.54,170.88L513.32,171.56L514.13,172.20L514.97,172.80L515.85,173.35L516.75,173.86L517.68,174.32L518.63,174.73L519.60,175.09L520.58,175.40L527.70,177.64L534.69,180.23L541.54,183.17L548.23,186.46L554.75,190.08L561.08,194.02L567.20,198.28L573.09,202.85L578.75,207.71L584.16,212.84L589.29,218.25L594.15,223.91L598.72,229.80L602.98,235.92L606.92,242.25L610.54,248.77L613.83,255.46L616.77,262.31L619.36,269.30L621.60,276.42L621.91,277.40L622.27,278.37L622.68,279.32L623.14,280.25L623.65,281.15L624.20,282.03L624.80,282.87L625.44,283.68L626.12,284.46L626.84,285.20L627.60,285.91L628.39,286.57L629.22,287.19L630.07,287.77L630.96,288.31L631.87,288.79L632.81,289.23L633.77,289.62L634.74,289.96L635.74,290.25L636.74,290.49L637.76,290.67L638.79,290.80L639.82,290.88L640.85,290.91L641.89,290.88L642.92,290.80L669.98,287.95L671.63,287.74L673.28,287.43L674.90,287.04L676.51,286.57L678.08,286.01L679.63,285.37L681.14,284.65L682.61,283.85L684.04,282.98L685.42,282.04L686.74,281.02L688.02,279.94L689.23,278.79L690.38,277.57L691.47,276.30L692.49,274.98L693.44,273.60L694.32,272.18L695.12,270.71L695.84,269.20L696.48,267.66L697.04,266.08L697.52,264.48L697.92,262.86L698.23,261.21L698.45,259.55L698.58,257.89L698.63,256.22L698.59,254.54L698.47,252.88L698.25,251.22L697.95,249.57L697.57,247.95L697.10,246.34L696.54,244.76L695.91,243.22L679.48,205.97L655.65,171.17Z"/><path d="M640.74,477.74L625.83,492.65L591.03,516.48L553.78,532.91L552.24,533.54L550.66,534.10L549.05,534.57L547.43,534.95L545.78,535.25L544.12,535.47L542.46,535.59L540.78,535.63L539.11,535.58L537.45,535.45L535.79,535.23L534.14,534.92L532.52,534.52L530.92,534.04L529.34,533.48L527.80,532.84L526.29,532.12L524.82,531.32L523.40,530.44L522.02,529.49L520.70,528.47L519.43,527.38L518.21,526.23L517.06,525.02L515.98,523.74L514.96,522.42L514.02,521.04L513.15,519.61L512.35,518.14L511.63,516.63L510.99,515.08L510.43,513.51L509.96,511.90L509.57,510.28L509.26,508.63L509.05,506.98L506.20,479.92L506.12,478.89L506.09,477.85L506.12,476.82L506.20,475.79L506.33,474.76L506.51,473.74L506.75,472.74L507.04,471.74L507.38,470.77L507.77,469.81L508.21,468.87L508.69,467.96L509.23,467.07L509.81,466.22L510.43,465.39L511.09,464.60L511.80,463.84L512.54,463.12L513.32,462.44L514.13,461.80L514.97,461.20L515.85,460.65L516.75,460.14L517.68,459.68L518.63,459.27L519.60,458.91L520.58,458.60L527.70,456.36L534.69,453.77L541.54,450.83L548.23,447.54L554.75,443.92L561.08,439.98L567.20,435.72L573.09,431.15L578.75,426.29L584.16,421.16L589.29,415.75L594.15,410.09L598.72,404.20L602.98,398.08L606.92,391.75L610.54,385.23L613.83,378.54L616.77,371.69L619.36,364.70L621.60,357.58L621.91,356.60L622.27,355.63L622.68,354.68L623.14,353.75L623.65,352.85L624.20,351.97L624.80,351.13L625.44,350.32L626.12,349.54L626.84,348.80L627.60,348.09L628.39,347.43L629.22,346.81L630.07,346.23L630.96,345.69L631.87,345.21L632.81,344.77L633.77,344.38L634.74,344.04L635.74,343.75L636.74,343.51L637.76,343.33L638.79,343.20L639.82,343.12L640.85,343.09L641.89,343.12L642.92,343.20L669.98,346.05L671.63,346.26L673.28,346.57L674.90,346.96L676.51,347.43L678.08,347.99L679.63,348.63L681.14,349.35L682.61,350.15L684.04,351.02L685.42,351.96L686.74,352.98L688.02,354.06L689.23,355.21L690.38,356.43L691.47,357.70L692.49,359.02L693.44,360.40L694.32,361.82L695.12,363.29L695.84,364.80L696.48,366.34L697.04,367.92L697.52,369.52L697.92,371.14L698.23,372.79L698.45,374.45L698.58,376.11L698.63,377.78L698.59,379.46L698.47,381.12L698.25,382.78L697.95,384.43L697.57,386.05L697.10,387.66L696.54,389.24L695.91,390.78L679.48,428.03L655.65,462.83Z"/><circle cx="480.0" cy="317.0" r="87.4"/><circle cx="480.00" cy="203.00" r="17.2"/><circle cx="560.61" cy="236.39" r="13.8"/><circle cx="594.00" cy="317.00" r="17.2"/><circle cx="560.61" cy="397.61" r="13.8"/><circle cx="480.00" cy="431.00" r="17.2"/><circle cx="399.39" cy="397.61" r="13.8"/><circle cx="366.00" cy="317.00" r="17.2"/><circle cx="399.39" cy="236.39" r="13.8"/></g><g fill="none" stroke="#161616" stroke-width="3.1" stroke-linejoin="round" stroke-linecap="square"><path d="M38.8,69 Q40.3,55 44.8,43 L65.6,43 Q69.7,55 71.2,69 L71.2,565 Q69.7,579 65.6,591 L44.8,591 Q40.3,579 38.8,565 Z"/><line x1="38.8" y1="69" x2="71.2" y2="69"/><line x1="38.8" y1="185.5" x2="71.2" y2="185.5"/><line x1="38.8" y1="220.3" x2="71.2" y2="220.3"/><line x1="38.8" y1="230" x2="71.2" y2="230"/><line x1="38.8" y1="404" x2="71.2" y2="404"/><line x1="38.8" y1="413.3" x2="71.2" y2="413.3"/><line x1="38.8" y1="448.5" x2="71.2" y2="448.5"/><line x1="38.8" y1="564.8" x2="71.2" y2="564.8"/></g><clipPath id="clip69"><rect x="38.8" y="69" width="32.400000000000006" height="116.5"/></clipPath><g clip-path="url(#clip69)" stroke="#161616" stroke-width="2.4"><line x1="38.8" y1="2.00" x2="71.2" y2="-27.00"/><line x1="38.8" y1="16.00" x2="71.2" y2="-13.00"/><line x1="38.8" y1="30.00" x2="71.2" y2="1.00"/><line x1="38.8" y1="44.00" x2="71.2" y2="15.00"/><line x1="38.8" y1="58.00" x2="71.2" y2="29.00"/><line x1="38.8" y1="72.00" x2="71.2" y2="43.00"/><line x1="38.8" y1="86.00" x2="71.2" y2="57.00"/><line x1="38.8" y1="100.00" x2="71.2" y2="71.00"/><line x1="38.8" y1="114.00" x2="71.2" y2="85.00"/><line x1="38.8" y1="128.00" x2="71.2" y2="99.00"/><line x1="38.8" y1="142.00" x2="71.2" y2="113.00"/><line x1="38.8" y1="156.00" x2="71.2" y2="127.00"/><line x1="38.8" y1="170.00" x2="71.2" y2="141.00"/><line x1="38.8" y1="184.00" x2="71.2" y2="155.00"/><line x1="38.8" y1="198.00" x2="71.2" y2="169.00"/><line x1="38.8" y1="212.00" x2="71.2" y2="183.00"/><line x1="38.8" y1="226.00" x2="71.2" y2="197.00"/></g><clipPath id="clip448"><rect x="38.8" y="448.5" width="32.400000000000006" height="116.29999999999995"/></clipPath><g clip-path="url(#clip448)" stroke="#161616" stroke-width="2.4"><line x1="38.8" y1="387.40" x2="71.2" y2="359.90"/><line x1="38.8" y1="400.90" x2="71.2" y2="373.40"/><line x1="38.8" y1="414.40" x2="71.2" y2="386.90"/><line x1="38.8" y1="427.90" x2="71.2" y2="400.40"/><line x1="38.8" y1="441.40" x2="71.2" y2="413.90"/><line x1="38.8" y1="454.90" x2="71.2" y2="427.40"/><line x1="38.8" y1="468.40" x2="71.2" y2="440.90"/><line x1="38.8" y1="481.90" x2="71.2" y2="454.40"/><line x1="38.8" y1="495.40" x2="71.2" y2="467.90"/><line x1="38.8" y1="508.90" x2="71.2" y2="481.40"/><line x1="38.8" y1="522.40" x2="71.2" y2="494.90"/><line x1="38.8" y1="535.90" x2="71.2" y2="508.40"/><line x1="38.8" y1="549.40" x2="71.2" y2="521.90"/><line x1="38.8" y1="562.90" x2="71.2" y2="535.40"/><line x1="38.8" y1="576.40" x2="71.2" y2="548.90"/><line x1="38.8" y1="589.90" x2="71.2" y2="562.40"/><line x1="38.8" y1="603.40" x2="71.2" y2="575.90"/></g><clipPath id="sclip220"><rect x="38.8" y="220.3" width="32.400000000000006" height="9.699999999999989"/></clipPath><g clip-path="url(#sclip220)" stroke="#161616" stroke-width="2.4" stroke-linecap="butt"><line x1="40.5" y1="230" x2="47.5" y2="220.3"/><line x1="54.8" y1="230" x2="61.8" y2="220.3"/><line x1="69.1" y1="230" x2="76.1" y2="220.3"/></g><clipPath id="sclip404"><rect x="38.8" y="404" width="32.400000000000006" height="9.300000000000011"/></clipPath><g clip-path="url(#sclip404)" stroke="#161616" stroke-width="2.4" stroke-linecap="butt"><line x1="40.8" y1="413.3" x2="47.8" y2="404"/><line x1="55.1" y1="413.3" x2="62.1" y2="404"/><line x1="69.4" y1="413.3" x2="76.4" y2="404"/></g><g fill="none" stroke="#ff0000" stroke-width="3" stroke-linecap="round"><line x1="71.2" y1="230" x2="132" y2="230"/><line x1="71.2" y1="404" x2="132" y2="404"/><line x1="125" y1="232" x2="125" y2="257.8"/><line x1="125" y1="372" x2="125" y2="402"/><path d="M381.46,373.97L380.49,372.25L379.54,370.51L378.62,368.76L377.74,366.99L376.88,365.20L376.06,363.40L375.27,361.59L374.51,359.76L373.78,357.92L373.08,356.07L372.42,354.21L371.79,352.33L371.19,350.44L370.63,348.55L370.10,346.64L369.60,344.72L369.13,342.80L368.70,340.87L368.31,338.93L367.94,336.99L367.61,335.03L367.32,333.08L367.06,331.11L366.83,329.15L366.64,327.18L366.48,325.21L366.36,323.23L366.27,321.25L366.22,319.28L366.20,317.30L366.22,315.32L366.27,313.34L366.35,311.36L366.47,309.39L366.62,307.41L366.81,305.44L367.03,303.48L367.29,301.51L367.58,299.56L367.91,297.60L368.27,295.66L368.66,293.72L369.09,291.79L369.55,289.86L370.05,287.95L370.57,286.04L371.13,284.14L371.73,282.25L372.36,280.38L373.02,278.51L373.71,276.66L374.43,274.81L375.19,272.99L375.98,271.17L376.80,269.37L377.65,267.58L378.54,265.81L379.45,264.06L380.39,262.32L381.37,260.60L382.37,258.89L383.41,257.20L384.47,255.53L385.56,253.88L386.68,252.25L387.83,250.64L389.01,249.05L390.22,247.48L391.45,245.93L392.71,244.41L393.99,242.90L395.31,241.42L396.64,239.96L398.01,238.53L399.39,237.12L400.81,235.73L402.24,234.37L403.70,233.03L405.19,231.72L406.69,230.44L408.22,229.18L409.77,227.95L411.34,226.74L412.93,225.57L414.54,224.42L416.18,223.30L417.83,222.21L419.50,221.15L421.19,220.12L422.89,219.11L424.62,218.14L426.36,217.20L428.11,216.29L429.88,215.40L431.67,214.55L433.47,213.74L435.29,212.95L437.12,212.19L438.96,211.47L440.82,210.78L442.68,210.12L444.56,209.50L446.45,208.90L448.35,208.34L450.25,207.82L452.17,207.32L454.10,206.86L456.03,206.44L457.97,206.05L459.91,205.69L461.87,205.37L463.82,205.08L465.79,204.82L467.75,204.60L469.72,204.41L471.70,204.26L473.67,204.14L475.65,204.06L477.63,204.01L479.61,204.00L481.59,204.02L483.56,204.08L485.54,204.17L487.52,204.29L489.49,204.45L491.46,204.64L493.43,204.87L495.39,205.13L497.34,205.43L499.29,205.76L501.24,206.13L503.18,206.53L505.11,206.96L507.03,207.42L508.95,207.92L510.85,208.46L512.75,209.02L514.64,209.62L516.51,210.26L518.38,210.92L520.23,211.62L522.07,212.35L523.89,213.11L525.71,213.90L527.50,214.73L529.29,215.59L531.06,216.47L532.81,217.39L534.55,218.34L536.27,219.32L537.97,220.33L539.65,221.37L541.32,222.44L542.97,223.53L544.60,224.66L546.20,225.81L547.79,227.00L549.36,228.20L550.90,229.44L552.43,230.70L553.93,231.99L555.40,233.31L556.86,234.65L558.29,236.02L559.70,237.41L561.08,238.83L562.44,240.27L563.77,241.73L565.08,243.22L566.36,244.73L567.61,246.26L568.84,247.81L570.04,249.38L571.21,250.98L572.35,252.59L573.47,254.23L574.55,255.88L575.61,257.56L576.64,259.25L577.64,260.96L578.61,262.68L579.54,264.42L580.45,266.18L581.33,267.96L582.17,269.75L582.99,271.55L583.77,273.37L584.52,275.20L585.24,277.04L585.92,278.90L586.58,280.77L587.20,282.65L587.79,284.54L588.34,286.44L588.86,288.35L589.35,290.27L589.80,292.19L590.22,294.13L590.61,296.07L590.96,298.01L591.28,299.97L591.56,301.93L591.81,303.89L592.03,305.86L592.21,307.83L592.36,309.80L592.47,311.78L592.55,313.75L592.59,315.73L592.60,317.71L592.57,319.69L592.51,321.67L592.42,323.65L592.29,325.62L592.12,327.59L591.92,329.56L591.69,331.53L591.42,333.49L591.12,335.44L590.78,337.39L590.41,339.34L590.01,341.28L589.57,343.21L589.10,345.13L588.60,347.04L588.06,348.95L587.49,350.84L586.88,352.72L586.24,354.60L585.57,356.46L584.87,358.31L584.14,360.15L583.37,361.97L582.57,363.78"/><path d="M526.15,420.74L524.33,421.54L522.49,422.31L520.64,423.05L518.78,423.76L516.90,424.43L515.02,425.07L513.12,425.68L511.21,426.25L509.30,426.80L507.37,427.30L505.43,427.78L503.49,428.22L501.54,428.62L499.58,428.99L497.62,429.33L495.65,429.63L493.68,429.90L491.70,430.13L489.72,430.33L487.73,430.49L485.75,430.62L483.76,430.72L481.77,430.78L479.77,430.80L477.78,430.79L475.79,430.74L473.80,430.66L471.81,430.55L469.83,430.40L467.84,430.21L465.86,429.99L463.89,429.74L461.92,429.45L459.95,429.12L457.99,428.76L456.04,428.37L454.09,427.95L452.15,427.48L450.23,426.99L448.30,426.46L446.39,425.90L444.49,425.30L442.60,424.68"/><line x1="373.57" y1="353.85" x2="431.8" y2="333.3"/><line x1="549.7" y1="291.6" x2="585.23" y2="280.55"/><line x1="368.23" y1="185.43" x2="409.17" y2="226.37"/><line x1="348.43" y1="205.23" x2="389.37" y2="246.17"/><line x1="413.7" y1="147.1" x2="372" y2="188.8"/><line x1="332.6" y1="230" x2="351" y2="211.6"/><line x1="462" y1="150" x2="462" y2="204"/><line x1="497.6" y1="150" x2="497.6" y2="204"/><line x1="434" y1="157.6" x2="460" y2="157.6"/><line x1="500" y1="157.6" x2="574" y2="157.6"/></g><path d="M125.00,231.00L128.60,240.50L125.00,246.00L121.40,240.50Z" fill="#ff0000" stroke="#ff0000" stroke-width="1" stroke-linejoin="round"/><path d="M125.00,403.00L121.40,393.50L125.00,388.00L128.60,393.50Z" fill="#ff0000" stroke="#ff0000" stroke-width="1" stroke-linejoin="round"/><path d="M373.57,353.85L381.36,347.34L387.74,348.94L383.72,354.14Z" fill="#ff0000" stroke="#ff0000" stroke-width="1" stroke-linejoin="round"/><path d="M585.23,280.55L577.44,287.06L571.06,285.46L575.08,280.26Z" fill="#ff0000" stroke="#ff0000" stroke-width="1" stroke-linejoin="round"/><path d="M371.20,189.60L375.37,180.34L381.81,178.99L380.46,185.43Z" fill="#ff0000" stroke="#ff0000" stroke-width="1" stroke-linejoin="round"/><path d="M351.60,211.00L347.43,220.26L340.99,221.61L342.34,215.17Z" fill="#ff0000" stroke="#ff0000" stroke-width="1" stroke-linejoin="round"/><path d="M462.00,157.60L452.50,161.20L447.00,157.60L452.50,154.00Z" fill="#ff0000" stroke="#ff0000" stroke-width="1" stroke-linejoin="round"/><path d="M497.60,157.60L507.10,154.00L512.60,157.60L507.10,161.20Z" fill="#ff0000" stroke="#ff0000" stroke-width="1" stroke-linejoin="round"/><g fill="#ff0000" stroke="#ff0000" stroke-width="0.5" font-family="Liberation Sans, sans-serif"><text transform="translate(133,361) rotate(-90) scale(0.84,1)" font-size="47">52</text><text transform="translate(132,310) rotate(-90) scale(0.84,1)" font-size="33" font-style="italic">mm</text><text transform="translate(447.8,342.5) rotate(-19.1) scale(0.76,1)" font-size="50">68</text><text transform="translate(495.5,323) rotate(-19.1) scale(0.84,1)" font-size="33" font-style="italic">mm</text><text transform="translate(378.5,176) rotate(-45) scale(0.82,1)" font-size="33">8.5</text><path d="M525,152.5 L529.3,126.3 Q526,130.5 520.5,132.5" fill="none" stroke-width="3.1" stroke="#ff0000" stroke-linejoin="round"/><text transform="translate(533.5,152) scale(0.76,1)" font-size="38" font-style="italic">0.5</text></g><g fill="none" stroke="#3a3a3a" stroke-width="1.5" stroke-linecap="round"><path d="M465.4,95 A14.8,13.2 0 0 1 495,95"/><path d="M455.3,95 L503.3,97.2"/><line x1="478.9" y1="72.5" x2="479.3" y2="81.5"/><line x1="462" y1="80.4" x2="467.6" y2="86.8"/><line x1="471.4" y1="78.5" x2="473.6" y2="83.5"/><line x1="486.8" y1="78.5" x2="484.5" y2="83.5"/><line x1="496.5" y1="79.6" x2="490.9" y2="85.6"/><line x1="460.5" y1="89" x2="465.5" y2="91.7"/><line x1="498" y1="89" x2="493.5" y2="91.5"/><path d="M476.9,104.5 L475.4,112.6 L472.8,113.3 M484.4,105.2 L485,112.6 L487.8,113.3" stroke-width="1.7" stroke="#555"/><path d="M474.8,105 Q475,100.8 479.2,100.9 Q482,101.5 486.2,104.6 L485.6,106 L481,104.6 L476.5,105.2 Z" fill="#444" stroke="#444" stroke-width="0.8"/></g><g fill="#000" font-family="Liberation Sans, sans-serif" font-weight="bold"><text transform="translate(12.3,650.6) scale(0.80,1)" font-size="48">Chain 420</text><text transform="translate(606.5,652.3) scale(0.78,1)" font-size="58.4">JTR 80</text><path d="M777.6,612.3 L777.6,651.7 L770.3,651.7 L770.3,625.5 Q766.5,628.5 762.4,630.2 L762.4,623.2 Q768.5,619.5 771.8,612.3 Z"/></g></svg>
</body></html>
